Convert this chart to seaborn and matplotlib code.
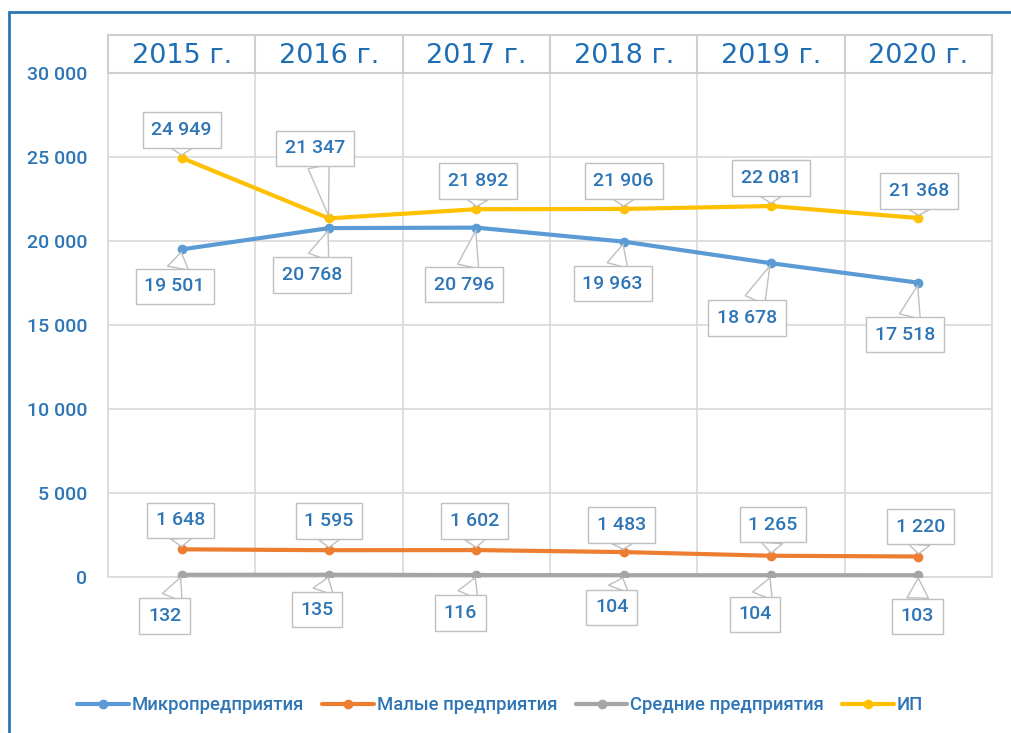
import pandas as pd
import numpy as np
import matplotlib
matplotlib.use("Agg")
import matplotlib.pyplot as plt
from matplotlib.ticker import FuncFormatter
from matplotlib.patches import Rectangle
import seaborn as sns

years = ["2015 г.", "2016 г.", "2017 г.", "2018 г.", "2019 г.", "2020 г."]
series_names = ["Микропредприятия", "Малые предприятия", "Средние предприятия", "ИП"]
micro = [19501, 20768, 20796, 19963, 18678, 17518]
small = [1648, 1595, 1602, 1483, 1265, 1220]
medium = [132, 135, 116, 104, 104, 103]
ip = [24949, 21347, 21892, 21906, 22081, 21368]
yticks = [0, 5000, 10000, 15000, 20000, 25000, 30000]

colors = ["#5B9BD5", "#ED7D31", "#A5A5A5", "#FFC000"]
text_blue = "#2E75B6"
grid_gray = "#D9D9D9"

# label offsets (pixels) of the callouts relative to each point
offsets = {
    "Микропредприятия": [(-7, -37), (-17, -47), (-12, -57), (-11, -42), (-24, -55), (-13, -52)],
    "Малые предприятия": [(-1, 29), (0, 29), (-2, 29), (-2, 27), (2, 31), (2, 30)],
    "Средние предприятия": [(-17, -41), (-12, -35), (-16, -38), (-12, -32), (-16, -39), (-1, -41)],
    "ИП": [(0, 28), (-14, 70), (2, 28), (0, 28), (0, 28), (1, 27)],
}

df = pd.DataFrame({
    "year": years * 4,
    "value": micro + small + medium + ip,
    "series": np.repeat(series_names, len(years)),
})

sns.set_style("white")
plt.rcParams["font.family"] = ["Roboto", "DejaVu Sans"]

fig = plt.figure(figsize=(10.11, 7.33), dpi=100)
left, right = 108 / 1011, 992 / 1011
bottom, top = 1 - 577 / 733, 1 - 73 / 733
ax = fig.add_axes([left, bottom, right - left, top - bottom])

sns.lineplot(data=df, x="year", y="value", hue="series", hue_order=series_names,
             palette=colors, marker="o", markersize=7, markeredgewidth=0,
             linewidth=3, legend=False, ax=ax, zorder=3)

n = len(years)
ax.set_xlim(-0.5, n - 0.5)
ax.set_ylim(0, 30000)
ax.set_yticks(yticks)
ax.yaxis.set_major_formatter(FuncFormatter(lambda v, p: f"{int(v):,}".replace(",", " ")))
ax.set_xticks([])
ax.set_xticks(np.arange(-0.5, n, 1), minor=True)
ax.tick_params(axis="y", length=0, pad=15, labelsize=14, labelcolor=text_blue)
for t in ax.get_yticklabels():
    t.set_fontweight("medium")
ax.tick_params(axis="x", which="both", length=0)
ax.set_xlabel("")
ax.set_ylabel("")
ax.grid(True, axis="y", color=grid_gray, lw=1.2)
ax.grid(True, axis="x", which="minor", color=grid_gray, lw=1.2)
for s in ax.spines.values():
    s.set_color(grid_gray)
    s.set_linewidth(1.2)

data_map = dict(zip(series_names, [micro, small, medium, ip]))
for name in series_names:
    for i, v in enumerate(data_map[name]):
        ax.annotate(f"{v:,}".replace(",", " "), xy=(i, v), xytext=offsets[name][i],
                    textcoords="offset pixels", ha="center", va="center",
                    fontsize=14, fontweight="medium", color=text_blue, zorder=5,
                    bbox=dict(boxstyle="square,pad=0.45", fc="white", ec="#BFBFBF", lw=1),
                    arrowprops=dict(arrowstyle="wedge,tail_width=1.1", fc="white",
                                    ec="#BFBFBF", lw=1, shrinkA=0, shrinkB=2))

# header row with the years
hax = fig.add_axes([left, top, right - left, 38 / 733])
hax.set_xlim(-0.5, n - 0.5)
hax.set_ylim(0, 1)
hax.set_xticks([])
hax.set_yticks([])
for s in hax.spines.values():
    s.set_color("#CFCFCF")
    s.set_linewidth(1.5)
for i, y in enumerate(years):
    if i > 0:
        hax.axvline(i - 0.5, color="#CFCFCF", lw=1.5)
    hax.text(i, 0.45, y, ha="center", va="center", fontsize=19.5,
             family=["DejaVu Sans"], color="#1F6EB5")

# legend
handles = ax.lines[:4]
leg = fig.legend(handles, series_names, loc="center", bbox_to_anchor=(0.4946, 1 - 705 / 733),
                 ncol=4, frameon=False, fontsize=13.3, labelcolor=text_blue,
                 handlelength=2.8, handletextpad=0.15, columnspacing=1.0)
for t in leg.get_texts():
    t.set_fontweight("medium")

# outer blue frame
fig.patches.append(Rectangle((9 / 1011, -0.2), 1.2, 1.2 - 12 / 733,
                             transform=fig.transFigure, fill=False,
                             ec=text_blue, lw=2))

fig.savefig("out.png", dpi=100)
